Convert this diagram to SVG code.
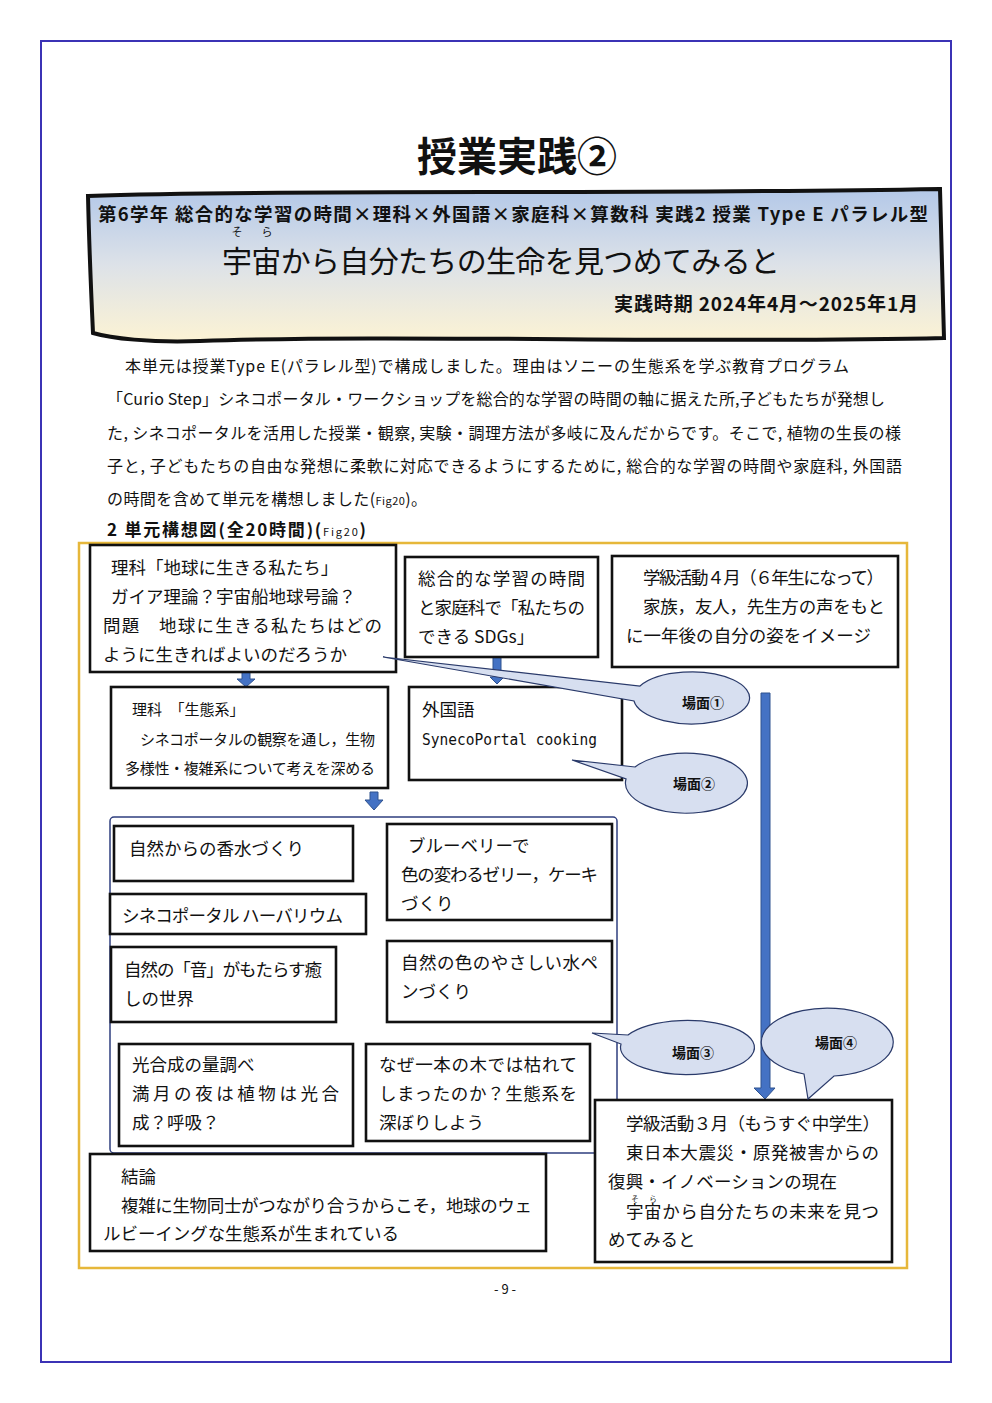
<svg xmlns="http://www.w3.org/2000/svg" width="992" height="1403" viewBox="0 0 992 1403">
<defs>
<linearGradient id="bannerGrad" x1="0" y1="0" x2="0" y2="1">
<stop offset="0" stop-color="#b3c8e8"/>
<stop offset="0.5" stop-color="#dde2e8"/>
<stop offset="1" stop-color="#fcf3d4"/>
</linearGradient>
<style>
text{font-family:"Noto Sans CJK JP","Noto Sans",sans-serif;fill:#111}
.box{fill:#fff;stroke:#111;stroke-width:2.6}
.t{font-size:17.5px}
.ts{font-size:15px}
.b{font-weight:bold}
.call{fill:#d7dff0;stroke:#2a3a6a;stroke-width:1.2}
.ct{font-size:14px;font-weight:bold;text-anchor:middle}
.arr{fill:#4472c4;stroke:#2f528f;stroke-width:1}
.mono{font-family:"DejaVu Sans Mono","Liberation Mono",monospace;font-size:15px}
</style>
</defs>
<rect width="992" height="1403" fill="#fff"/>
<rect x="41" y="41" width="910" height="1321" fill="none" stroke="#3b32b5" stroke-width="2"/>

<text x="517" y="171" font-size="40" font-weight="bold" text-anchor="middle">授業実践②</text>

<g id="banner">
<path d="M88,196 C300,189 600,195 940,189 C941,240 943,290 944,338 C700,344 400,334 200,341 C150,343 110,338 93,333 C91,290 89,240 88,196 Z" fill="url(#bannerGrad)" stroke="#111" stroke-width="4"/>
<text x="98" y="221" font-size="18.5" font-weight="bold" textLength="830" lengthAdjust="spacing">第6学年  総合的な学習の時間×理科×外国語×家庭科×算数科  実践2  授業 Type  E  パラレル型</text>
<text x="237" y="236" font-size="11" text-anchor="middle">そ</text>
<text x="267" y="236" font-size="11" text-anchor="middle">ら</text>
<text x="222" y="272" font-size="30" textLength="558" lengthAdjust="spacing">宇宙から自分たちの生命を見つめてみると</text>
<text x="918" y="311" font-size="19" font-weight="bold" text-anchor="end" textLength="304" lengthAdjust="spacing">実践時期 2024年4月〜2025年1月</text>
</g>

<g id="body">
<text x="125" y="372" font-size="16" textLength="724" lengthAdjust="spacing">本単元は授業Type  E(パラレル型)で構成しました。理由はソニーの生態系を学ぶ教育プログラム</text>
<text x="107" y="405" font-size="16" textLength="778" lengthAdjust="spacing">「Curio Step」シネコポータル・ワークショップを総合的な学習の時間の軸に据えた所,子どもたちが発想し</text>
<text x="107" y="439" font-size="16" textLength="794" lengthAdjust="spacing">た, シネコポータルを活用した授業・観察, 実験・調理方法が多岐に及んだからです。そこで, 植物の生長の様</text>
<text x="107" y="472" font-size="16" textLength="795" lengthAdjust="spacing">子と, 子どもたちの自由な発想に柔軟に対応できるようにするために, 総合的な学習の時間や家庭科, 外国語</text>
<text x="107" y="505" font-size="16" textLength="320" lengthAdjust="spacing">の時間を含めて単元を構想しました(<tspan font-size="11">Fig20</tspan>)。</text>
<text x="107" y="536" font-size="17" font-weight="bold" textLength="259" lengthAdjust="spacing">2  単元構想図(全20時間)(<tspan font-size="11" font-weight="normal">Fig20</tspan>)</text>
</g>

<rect x="79" y="543" width="828" height="725" fill="none" stroke="#e6b73a" stroke-width="2.5"/>

<g id="group-frame">
<rect x="110" y="817" width="507" height="336" rx="4" fill="none" stroke="#2f3f7f" stroke-width="1.5"/>
</g>

<g id="connectors">
<polygon class="arr" points="242,672 250,672 250,679 255,679 246,687 237,679 242,679"/>
<polygon class="arr" points="493,657 501,657 501,677 504,677 497,684 490,677 493,677"/>
<polygon class="arr" points="370,792 378,792 378,800 383,800 374,810 365,800 370,800"/>
<polygon class="arr" points="761,693 770,693 770,1088 775,1088 765,1099 754,1088 761,1088"/>
</g>

<g id="n-rika1">
<rect class="box" x="90" y="545" width="306" height="127"/>
<text class="t" x="111" y="574">理科「地球に生きる私たち」</text>
<text class="t" x="111" y="603">ガイア理論？宇宙船地球号論？</text>
<text class="t" x="103" y="632" textLength="279" lengthAdjust="spacing">問題　地球に生きる私たちはどの</text>
<text class="t" x="103" y="661">ように生きればよいのだろうか</text>
</g>

<g id="n-sogo">
<rect class="box" x="405" y="557" width="193" height="100"/>
<text class="t" x="418" y="585" textLength="167" lengthAdjust="spacing">総合的な学習の時間</text>
<text class="t" x="418" y="614" textLength="167" lengthAdjust="spacing">と家庭科で「私たちの</text>
<text class="t" x="418" y="643">できる SDGs」</text>
</g>

<g id="n-april">
<rect class="box" x="612" y="556" width="286" height="111"/>
<text class="t" x="643" y="584" textLength="241" lengthAdjust="spacing">学級活動４月（６年生になって）</text>
<text class="t" x="643" y="613" textLength="242" lengthAdjust="spacing">家族，友人，先生方の声をもと</text>
<text class="t" x="626" y="642" textLength="245" lengthAdjust="spacing">に一年後の自分の姿をイメージ</text>
</g>

<g id="n-seitaikei">
<rect class="box" x="111" y="687" width="277" height="101"/>
<text class="ts" x="132" y="715">理科　「生態系」</text>
<text class="ts" x="140" y="745" textLength="235" lengthAdjust="spacing">シネコポータルの観察を通し，生物</text>
<text class="ts" x="125" y="774" textLength="250" lengthAdjust="spacing">多様性・複雑系について考えを深める</text>
</g>

<g id="n-gaikokugo">
<rect class="box" x="409" y="687" width="213" height="93"/>
<text class="t" x="422" y="716">外国語</text>
<text class="mono" x="422" y="745" textLength="175" lengthAdjust="spacingAndGlyphs">SynecoPortal cooking</text>
</g>

<g id="n-kosui">
<rect class="box" x="114" y="826" width="239" height="55"/>
<text class="t" x="129" y="855">自然からの香水づくり</text>
</g>

<g id="n-herbarium">
<rect class="box" x="110" y="894" width="256" height="40"/>
<text class="t" x="122" y="922" textLength="221" lengthAdjust="spacing">シネコポータル ハーバリウム</text>
</g>

<g id="n-oto">
<rect class="box" x="111" y="947" width="225" height="75"/>
<text class="t" x="124" y="976" textLength="198" lengthAdjust="spacing">自然の「音」がもたらす癒</text>
<text class="t" x="124" y="1005">しの世界</text>
</g>

<g id="n-blueberry">
<rect class="box" x="387" y="824" width="225" height="96"/>
<text class="t" x="408" y="852">ブルーベリーで</text>
<text class="t" x="401" y="881" textLength="197" lengthAdjust="spacing">色の変わるゼリー，ケーキ</text>
<text class="t" x="401" y="910">づくり</text>
</g>

<g id="n-mizupen">
<rect class="box" x="387" y="941" width="225" height="81"/>
<text class="t" x="401" y="969" textLength="197" lengthAdjust="spacing">自然の色のやさしい水ペ</text>
<text class="t" x="401" y="998">ンづくり</text>
</g>

<g id="n-kogosei">
<rect class="box" x="119" y="1044" width="234" height="102"/>
<text class="t" x="132" y="1071">光合成の量調べ</text>
<text class="t" x="132" y="1100" textLength="207" lengthAdjust="spacing">満月の夜は植物は光合</text>
<text class="t" x="132" y="1129">成？呼吸？</text>
</g>

<g id="n-naze">
<rect class="box" x="366" y="1044" width="224" height="97"/>
<text class="t" x="379" y="1071" textLength="198" lengthAdjust="spacing">なぜ一本の木では枯れて</text>
<text class="t" x="379" y="1100" textLength="198" lengthAdjust="spacing">しまったのか？生態系を</text>
<text class="t" x="379" y="1129">深ぼりしよう</text>
</g>

<g id="n-ketsuron">
<rect class="box" x="90" y="1154" width="456" height="97"/>
<text class="t" x="121" y="1183">結論</text>
<text class="t" x="121" y="1212" textLength="411" lengthAdjust="spacing">複雑に生物同士がつながり合うからこそ，地球のウェ</text>
<text class="t" x="103" y="1240" textLength="296" lengthAdjust="spacing">ルビーイングな生態系が生まれている</text>
</g>

<g id="n-march">
<rect class="box" x="595" y="1100" width="297" height="162"/>
<text class="t" x="626" y="1130" textLength="254" lengthAdjust="spacing">学級活動３月（もうすぐ中学生）</text>
<text class="t" x="626" y="1159" textLength="253" lengthAdjust="spacing">東日本大震災・原発被害からの</text>
<text class="t" x="608" y="1188" textLength="229" lengthAdjust="spacing">復興・イノベーションの現在</text>
<text x="635" y="1202" font-size="7.5" text-anchor="middle">そ</text>
<text x="653" y="1202" font-size="7.5" text-anchor="middle">ら</text>
<text class="t" x="626" y="1218" textLength="253" lengthAdjust="spacing">宇宙から自分たちの未来を見つ</text>
<text class="t" x="608" y="1246">めてみると</text>
</g>

<g id="c-bamen1">
<path class="call" d="M383,657 L640,686 A58,26 0 1 1 634,701 Z"/>
<text class="ct" x="703" y="708">場面①</text>
</g>
<g id="c-bamen2">
<path class="call" d="M572,760 L635,767 A61,30 0 1 1 626,779 Z"/>
<text class="ct" x="694" y="789">場面②</text>
</g>
<g id="c-bamen3">
<path class="call" d="M592,1033 L628,1035 A67,27 0 1 1 621,1044 Z"/>
<text class="ct" x="693" y="1058">場面③</text>
</g>
<g id="c-bamen4">
<path class="call" d="M808,1099 L804,1074 A66,34 0 1 1 834,1076 Z"/>
<text class="ct" x="836" y="1048">場面④</text>
</g>

<text x="505" y="1294" font-size="13" text-anchor="middle">- 9 -</text>
</svg>
